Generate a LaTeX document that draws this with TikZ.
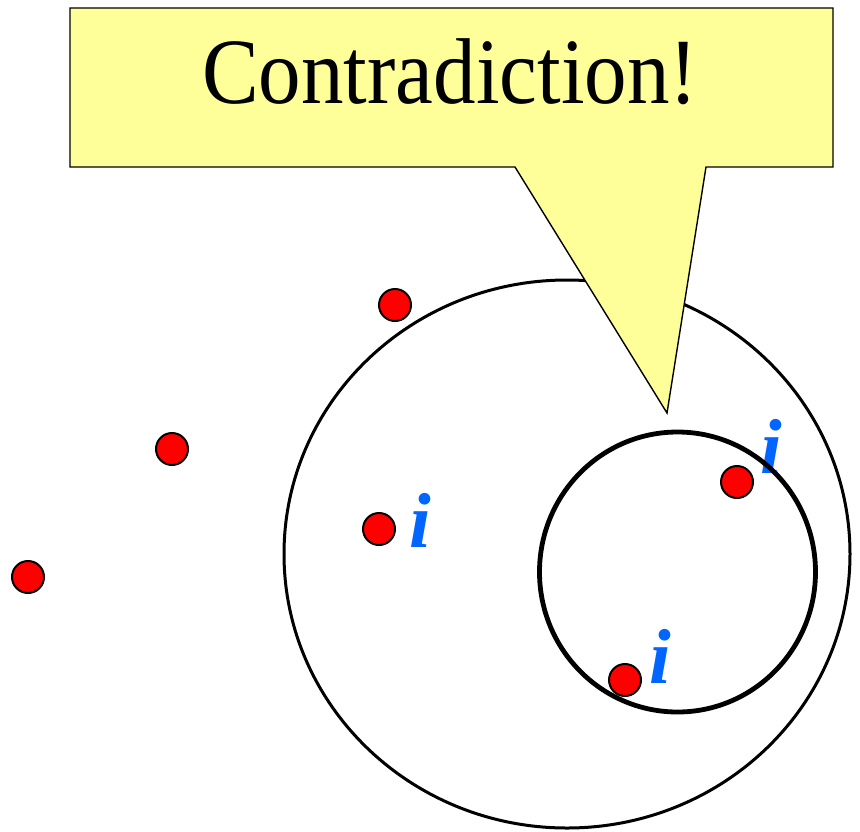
\documentclass[tikz,border=0pt]{standalone}
\usepackage{fontspec}
\setmainfont{Liberation Serif}
\usetikzlibrary{shapes.geometric}
\begin{document}
\begin{tikzpicture}[x=1pt,y=-1pt,
  dot/.style={circle,fill=red,draw=black,line width=2pt,minimum size=32pt,inner sep=0pt},
  ilabel/.style={text=ilblue,font=\fontsize{78}{78}\selectfont\bfseries\itshape,anchor=base,inner sep=0pt},
  callout/.style={fill=calloutyellow,draw=black,line width=1.4pt,line join=miter}]
\definecolor{calloutyellow}{RGB}{255,255,153}
\definecolor{ilblue}{RGB}{0,102,255}
\useasboundingbox (0,0) rectangle (860,831);
% big circle
\node[ellipse,draw=black,line width=3pt,minimum width=566pt,minimum height=548pt,inner sep=0pt] (big) at (567,554) {};
% callout
\coordinate (tip) at (667,413);
\draw[callout] (70,8) -- (833,8) -- (833,167) -- (706,167) -- (tip) -- (515,167) -- (70,167) -- cycle;
\node[anchor=base,inner sep=0pt,font=\fontsize{85}{85}\selectfont,yscale=1.1] (title) at (450,103) {Contradiction!};
% labels
\node[ilabel] (i1) at (420,547) {i};
\node[ilabel] (i2) at (771,473) {i};
\node[ilabel] (i3) at (660,683) {i};
% small circle
\node[ellipse,draw=black,line width=4.8pt,minimum width=276pt,minimum height=280pt,inner sep=0pt] (small) at (677.5,572) {};
% dots
\node[dot] (d1) at (395,305) {};
\node[dot] (d2) at (172,449) {};
\node[dot] (d3) at (28,577) {};
\node[dot] (d4) at (379,529) {};
\node[dot] (d5) at (737,482) {};
\node[dot] (d6) at (625,680) {};
\end{tikzpicture}
\end{document}
